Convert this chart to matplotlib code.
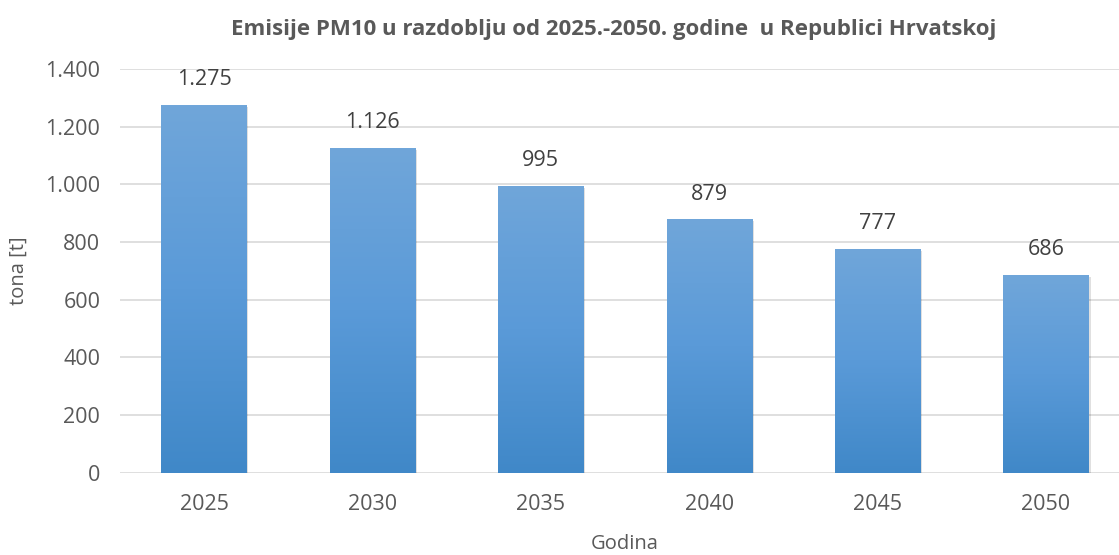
import numpy as np
import matplotlib.pyplot as plt
from matplotlib.colors import LinearSegmentedColormap

plt.rcParams['font.family'] = ['Open Sans', 'DejaVu Sans']

godine = ['2025', '2030', '2035', '2040', '2045', '2050']
emisije = [1275, 1126, 995, 879, 777, 686]
y_ticks = [0, 200, 400, 600, 800, 1000, 1200, 1400]
y_tick_labels = ['0', '200', '400', '600', '800', '1.000', '1.200', '1.400']


def fmt(v):
    return f"{v:,}".replace(",", ".")


fig = plt.figure(figsize=(11.19, 5.55), dpi=100)
ax = fig.add_axes([0.107, 0.148, 0.903, 0.728])

x = np.arange(len(godine))
bars = ax.bar(x, emisije, width=0.505, color='#5b9bd5', zorder=2)

# gradient fill, lighter at top
cmap = LinearSegmentedColormap.from_list('g', ['#4088c8', '#5a9ad8', '#70a6da'])
grad = np.linspace(0, 1, 256).reshape(-1, 1)
for b in bars:
    x0, w, h = b.get_x(), b.get_width(), b.get_height()
    # soft shadow
    ax.bar(x0 + w / 2 + 0.012, h, width=w, bottom=-8, color='#000000', alpha=0.12, zorder=1.5)
    im = ax.imshow(grad, extent=[x0, x0 + w, 0, h], origin='lower', cmap=cmap,
                   aspect='auto', zorder=3)
    im.set_clip_path(b)

for xi, v in zip(x, emisije):
    ax.text(xi, v + 50, fmt(v), ha='center', va='bottom', fontsize=15.5, color='#404040')

ax.set_xlim(-0.5, len(godine) - 0.5)
ax.set_ylim(0, 1400)
ax.set_yticks(y_ticks)
ax.set_yticklabels(y_tick_labels)
ax.set_xticks(x)
ax.set_xticklabels(godine)
ax.tick_params(axis='both', length=0, labelsize=15.5, labelcolor='#595959')
ax.tick_params(axis='x', pad=15)
ax.tick_params(axis='y', pad=14)
ax.grid(axis='y', color='#d9d9d9', linewidth=1.2, zorder=0)
ax.set_axisbelow(True)
for s in ax.spines.values():
    s.set_visible(False)

ax.set_ylabel('tona [t]', fontsize=14.5, color='#595959', labelpad=12)
ax.set_xlabel('Godina', fontsize=14.5, color='#595959', labelpad=14)
fig.text(0.548, 0.946, 'Emisije PM10 u razdoblju od 2025.-2050. godine  u Republici Hrvatskoj',
         ha='center', va='center', fontsize=16, fontweight='bold', color='#595959')

fig.savefig('out.png', dpi=100)
